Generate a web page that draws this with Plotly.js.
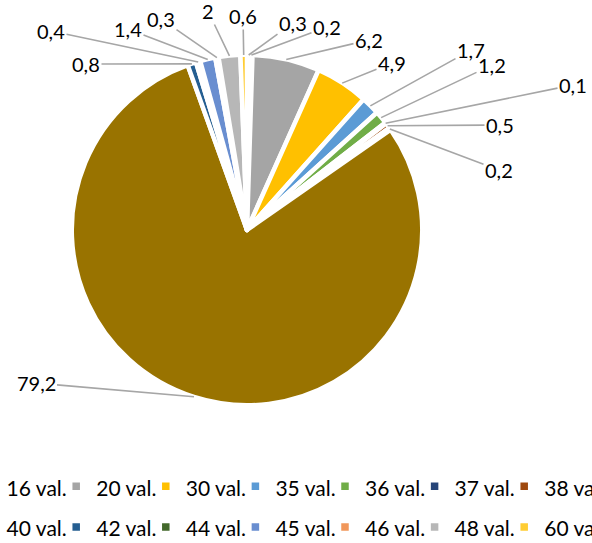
<!DOCTYPE html>
<html>
<head>
<meta charset="utf-8">
<script src="https://cdn.plot.ly/plotly-3.0.1.min.js"></script>
<style>
  html, body { margin: 0; padding: 0; width: 592px; height: 543px; overflow: hidden; background: #fff; }
  #chart { position: absolute; left: -130px; top: 0; width: 780px; height: 560px; }
</style>
</head>
<body>
<div id="chart"></div>
<script>
// ---- data ----
const categories = ["15 val.", "16 val.", "20 val.", "30 val.", "35 val.", "36 val.", "37 val.", "38 val.",
                    "39 val.", "40 val.", "42 val.", "44 val.", "45 val.", "46 val.", "48 val.", "60 val."];
const shares = [0.3, 0.2, 6.2, 4.9, 1.7, 1.2, 0.1, 0.5, 0.2, 79.2, 0.8, 0.4, 1.4, 0.3, 2, 0.6];
const sliceColors = ["#4472C4", "#ED7D31", "#A5A5A5", "#FFC000", "#5B9BD5", "#70AD47", "#264478", "#9E480E",
                     "#636363", "#997300", "#255E91", "#43682B", "#698ED0", "#F1975A", "#B7B7B7", "#FFCD33"];

// ---- layout constants (page pixels) ----
const W = 780, H = 560, OFFX = -130;      // plot div is wider than the window (legend is clipped like the original)
const CX = 247, CY = 230, R_VIS = 173, BORDER = 4.5;
const R_PLOT = R_VIS + BORDER / 2;
const R_TIP = 175;
// label centres (page px), one per slice in slice order
const labelPos = [[293, 23], [327, 27], [369, 40], [392, 63], [471, 50], [492, 65], [573, 85], [500, 125],
                  [499, 170], [36, 383], [86, 64], [51, 31], [128, 29], [161, 19], [208, 11], [243, 16]];

const FONT = "Lato, 'Open Sans', sans-serif";
const toPX = px => (px - OFFX) / W;
const toPY = py => 1 - py / H;

const total = shares.reduce((a, b) => a + b, 0);
let cum = 0;
const annotations = shares.map((v, i) => {
  const th = 2 * Math.PI * (cum + v / 2) / total;
  cum += v;
  const tx = CX + R_TIP * Math.sin(th), ty = CY - R_TIP * Math.cos(th);
  return {
    xref: 'paper', yref: 'paper', x: toPX(tx), y: toPY(ty),
    ax: labelPos[i][0] - tx, ay: labelPos[i][1] - ty,
    text: String(v).replace('.', ','),
    showarrow: true, arrowhead: 0, arrowwidth: 1.6, arrowcolor: '#A6A6A6', standoff: 0,
    font: { family: FONT, size: 20, color: '#000000' }
  };
});

const trace = {
  type: 'pie',
  labels: categories.map(c => '<span style="font-size:21px;baseline-shift:2px">' + c + '</span>'),
  values: shares,
  sort: false, direction: 'clockwise', rotation: 0,
  textinfo: 'none', hoverinfo: 'label+value',
  marker: { colors: sliceColors, line: { color: '#ffffff', width: BORDER } },
  domain: { x: [toPX(CX - R_PLOT), toPX(CX + R_PLOT)], y: [toPY(CY + R_PLOT), toPY(CY - R_PLOT)] }
};

const layout = {
  width: W, height: H,
  margin: { l: 0, r: 0, t: 0, b: 0, pad: 0 },
  paper_bgcolor: '#ffffff',
  showlegend: true,
  legend: {
    orientation: 'h', x: toPX(-123), xanchor: 'left', y: toPY(461), yanchor: 'top',
    entrywidth: 44.6, entrywidthmode: 'pixels',
    font: { family: FONT, size: 29, color: '#000000' },
    bgcolor: 'rgba(0,0,0,0)', borderwidth: 0, traceorder: 'normal'
  },
  annotations: annotations
};

Plotly.newPlot('chart', [trace], layout, { displayModeBar: false, staticPlot: true });
</script>
</body>
</html>
